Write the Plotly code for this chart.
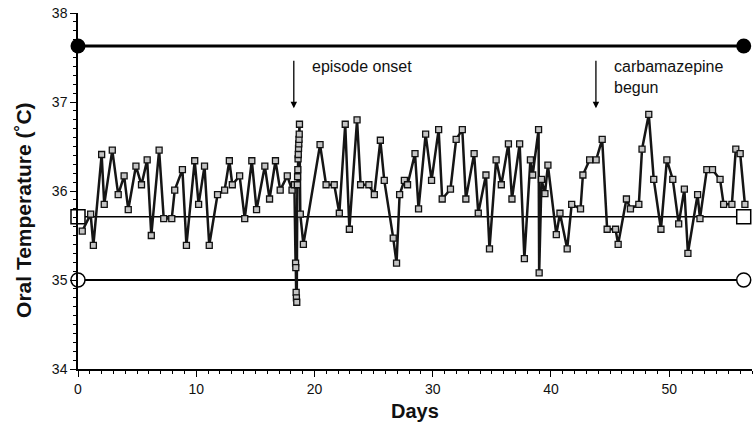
import plotly.graph_objects as go

# Daily oral temperature readings (day, °C)
days = [0.36, 1.07, 1.30, 2.00, 2.22, 2.90, 3.40, 3.90, 4.25, 4.90, 5.37, 5.85, 6.20, 6.86,
        7.25, 7.93, 8.18, 8.83, 9.17, 9.87, 10.20, 10.70, 11.10, 11.80, 12.40, 12.80, 13.05,
        13.67, 14.10, 14.70, 15.10, 15.80, 16.20, 16.70, 17.10, 17.70, 18.10, 18.30,
        18.40, 18.42, 18.45, 18.47, 18.50, 18.55, 18.57, 18.59, 18.61, 18.63, 18.65, 18.67,
        18.69, 18.71, 18.73, 18.80, 19.06,
        20.47, 20.98, 21.67, 22.10, 22.60, 22.95, 23.60, 23.90, 24.60, 25.06, 25.57, 25.90,
        26.66, 26.94, 27.20, 27.60, 27.87, 28.50, 28.80, 29.40, 29.90, 30.50, 30.80, 31.50,
        31.98, 32.50, 32.80, 33.50, 33.85, 34.50, 34.80, 35.36, 35.80, 36.40, 36.70, 37.35,
        37.75, 38.26, 38.45, 38.95, 39.00, 39.20, 39.49, 39.74, 40.45, 40.76, 41.37, 41.75,
        42.50, 42.70, 43.27, 43.82, 44.33, 44.75, 45.46, 45.68, 46.38, 46.72, 47.43, 47.70,
        48.27, 48.69, 49.30, 49.80, 50.30, 50.80, 51.28, 51.58, 52.40, 52.60, 53.18, 53.66,
        54.30, 54.60, 55.30, 55.63, 56.00, 56.40]
temps = [35.55, 35.74, 35.39, 36.41, 35.85, 36.46, 35.96, 36.17, 35.79, 36.28, 36.07, 36.35, 35.50, 36.46,
         35.69, 35.69, 36.01, 36.24, 35.39, 36.34, 35.85, 36.28, 35.39, 35.96, 36.01, 36.34, 36.07,
         36.17, 35.69, 36.34, 35.79, 36.28, 35.91, 36.34, 36.01, 36.17, 36.01, 36.07,
         35.19, 35.14, 34.86, 34.80, 34.75, 36.07, 36.16, 36.24, 36.36, 36.41, 36.48, 36.53,
         36.58, 36.64, 36.75, 35.74, 35.40,
         36.52, 36.07, 36.07, 35.75, 36.75, 35.57, 36.80, 36.07, 36.07, 35.96, 36.57, 36.12,
         35.47, 35.19, 35.96, 36.12, 36.07, 36.42, 35.80, 36.64, 36.12, 36.69, 35.91, 36.02,
         36.58, 36.69, 35.91, 36.42, 35.75, 36.18, 35.35, 36.35, 36.07, 36.53, 35.91, 36.53,
         35.24, 36.35, 36.18, 36.69, 35.08, 36.13, 35.97, 36.29, 35.51, 35.75, 35.35, 35.85,
         35.80, 36.18, 36.35, 36.35, 36.58, 35.57, 35.57, 35.40, 35.91, 35.80, 35.85, 36.47,
         36.86, 36.13, 35.57, 36.35, 36.13, 35.63, 36.02, 35.30, 35.96, 35.69, 36.24, 36.24,
         36.13, 35.85, 35.85, 36.47, 36.42, 35.85]

# Reference lines
ref_x = [0, 56.3]
upper_ref = 37.63
mean_ref = 35.71
lower_ref = 35.0

# Event annotations
events = ["episode onset", "carbamazepine<br>begun"]
event_days = [18.25, 43.8]

x_ticks = [0, 10, 20, 30, 40, 50]
y_ticks = [34, 35, 36, 37, 38]

FONT = "Liberation Sans, Arial, sans-serif"

fig = go.Figure()

fig.add_trace(go.Scatter(
    x=ref_x, y=[upper_ref] * 2, mode="lines+markers",
    line=dict(color="black", width=3),
    marker=dict(symbol="circle", size=15, color="black"),
    cliponaxis=False, showlegend=False))
fig.add_trace(go.Scatter(
    x=ref_x, y=[mean_ref] * 2, mode="lines+markers",
    line=dict(color="black", width=1.6),
    marker=dict(symbol="square", size=14, color="white", line=dict(color="black", width=1.5)),
    cliponaxis=False, showlegend=False))
fig.add_trace(go.Scatter(
    x=ref_x, y=[lower_ref] * 2, mode="lines+markers",
    line=dict(color="black", width=2),
    marker=dict(symbol="circle", size=14, color="white", line=dict(color="black", width=1.5)),
    cliponaxis=False, showlegend=False))

fig.add_trace(go.Scatter(
    x=days, y=temps, mode="lines+markers",
    line=dict(color="#151515", width=2.5),
    marker=dict(symbol="square", size=6, color="#c4c4c4", line=dict(color="#111111", width=1.3)),
    cliponaxis=False, showlegend=False))

annotations = []
for d, label in zip(event_days, events):
    annotations.append(dict(
        x=d, y=36.93, ax=d, ay=37.48, xref="x", yref="y", axref="x", ayref="y",
        text="", showarrow=True, arrowhead=2, arrowsize=1, arrowwidth=1.3, arrowcolor="black"))
    annotations.append(dict(
        x=d + 1.4, y=37.52, xref="x", yref="y", text=label, showarrow=False,
        xanchor="left", yanchor="top", align="left",
        font=dict(family=FONT, size=16, color="#111")))

annotations.append(dict(
    x=0.5, y=-0.118, xref="paper", yref="paper", text="<b>Days</b>", showarrow=False,
    xanchor="center", yanchor="middle", font=dict(family=FONT, size=20, color="#111")))
annotations.append(dict(
    x=-0.08, y=0.447, xref="paper", yref="paper", text="<b>Oral Temperature (˚C)</b>",
    showarrow=False, textangle=-90, xanchor="center", yanchor="middle",
    font=dict(family=FONT, size=21, color="#111")))

fig.update_layout(
    width=756, height=426,
    margin=dict(l=78, r=4, t=13, b=57),
    paper_bgcolor="white", plot_bgcolor="white",
    annotations=annotations,
    xaxis=dict(
        range=[0, 57], tickvals=x_ticks, ticktext=[str(v) for v in x_ticks],
        showgrid=False, zeroline=False, showline=True, linecolor="black", linewidth=1.5,
        ticks="outside", ticklen=6, tickwidth=1.3, tickcolor="black",
        minor=dict(dtick=1, ticks="outside", ticklen=3, tickwidth=1, tickcolor="black"),
        tickfont=dict(family=FONT, size=14, color="#111")),
    yaxis=dict(
        range=[34, 38], tickvals=y_ticks, ticktext=[str(v) for v in y_ticks],
        showgrid=False, zeroline=False, showline=True, linecolor="black", linewidth=1.5,
        ticks="outside", ticklen=6, tickwidth=1.3, tickcolor="black",
        minor=dict(dtick=0.1, ticks="outside", ticklen=3, tickwidth=1, tickcolor="black"),
        tickfont=dict(family=FONT, size=14, color="#111")),
)

fig.write_html("out.html", config={"displayModeBar": False},
               post_script="document.body.style.margin='0';document.body.style.overflow='hidden';")
